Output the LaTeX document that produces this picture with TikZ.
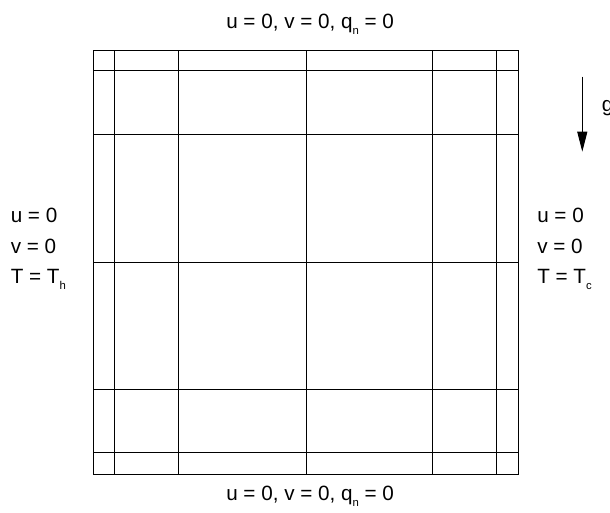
\documentclass[tikz,border=0pt]{standalone}
\usepackage{fontspec}
\setmainfont{Liberation Sans}
\usetikzlibrary{arrows.meta}
\newcommand\lowsub[1]{\raisebox{-0.3em}{\fontsize{8.5}{8.5}\selectfont #1}}
\begin{document}
\begin{tikzpicture}[x=0.75pt,y=-0.75pt,
  lbl/.style={inner sep=0pt,anchor=base west,font=\fontsize{15.5}{18}\selectfont},
  gridline/.style={line width=0.75pt,black}]
\useasboundingbox (0,0) rectangle (610,512);
% grid
\foreach \x in {114.3,178,306,432.7,496.7}
  \draw[gridline] (\x,50) -- (\x,474);
\foreach \y in {70.7,134.3,262,389.3,452.7}
  \draw[gridline] (93.3,\y) -- (518,\y);
\draw[gridline] (93.3,50) rectangle (518,474);
% labels
\node[lbl] (top) at (226,28.3) {u = 0, v = 0, q\lowsub{n} = 0};
\node[lbl] (bot) at (226,500) {u = 0, v = 0, q\lowsub{n} = 0};
\node[lbl] (lu) at (10.5,222) {u = 0};
\node[lbl] (lv) at (10.5,253) {v = 0};
\node[lbl] (lt) at (10.5,283.5) {T = T\lowsub{h}};
\node[lbl] (ru) at (537,222) {u = 0};
\node[lbl] (rv) at (537,253) {v = 0};
\node[lbl] (rt) at (537,283.5) {T = T\lowsub{c}};
\node[lbl] (g) at (601.5,111) {g};
% gravity arrow
\coordinate (gs) at (582.3,76.7);
\coordinate (ge) at (582.3,151.7);
\draw[line width=0.75pt,-{Triangle[length=15pt,width=7.5pt]}] (gs) -- (ge);
\end{tikzpicture}
\end{document}
